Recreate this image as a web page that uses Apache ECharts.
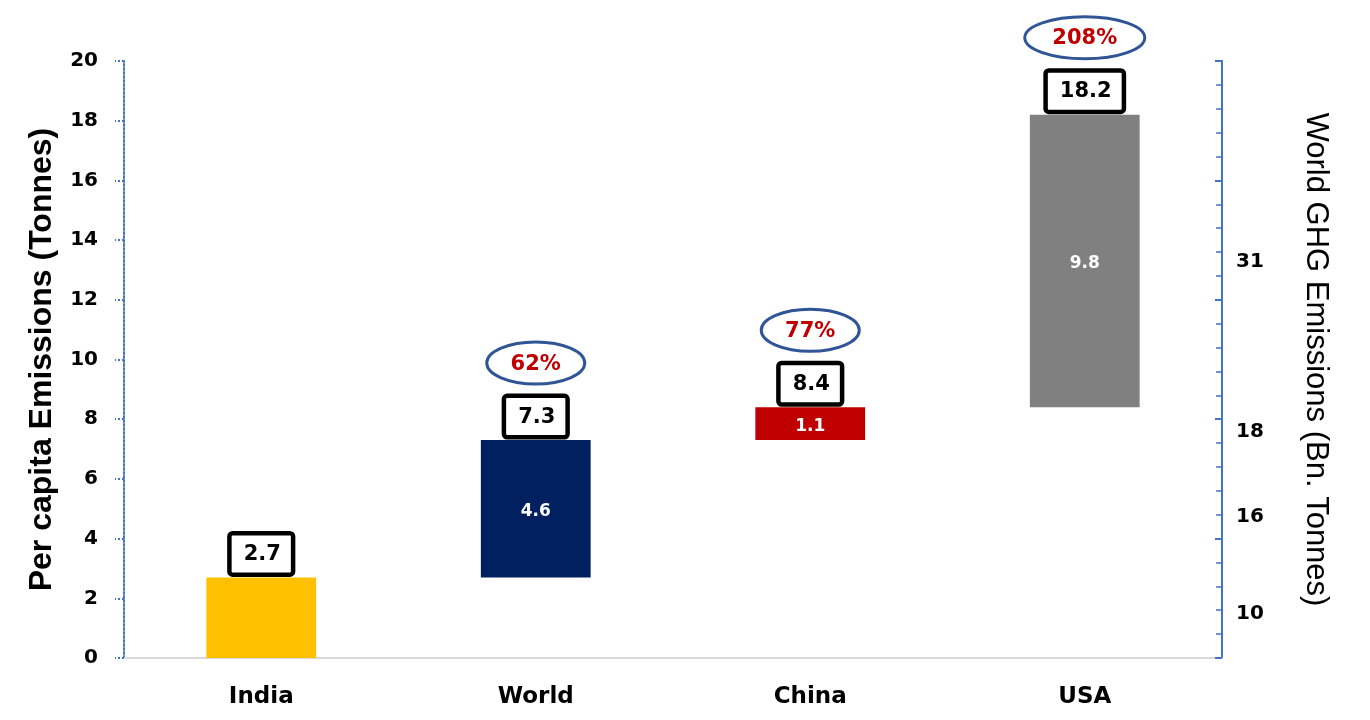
<!DOCTYPE html>
<html>
<head>
<meta charset="utf-8">
<title>Per capita emissions</title>
<script src="https://cdn.jsdelivr.net/npm/echarts@6/dist/echarts.min.js"></script>
<style>
  html, body { margin: 0; padding: 0; background: #fff; }
  #chart { width: 1370px; height: 720px; }
</style>
</head>
<body>
<div id="chart"></div>
<script>
// 数据
var categories = ['India', 'World', 'China', 'USA'];
var baseValues = [0, 2.7, 7.3, 8.4];          // 瀑布图的透明底座
var segmentValues = [2.7, 4.6, 1.1, 9.8];     // 各段增量
var totalValues = [2.7, 7.3, 8.4, 18.2];      // 方框里的人均排放
var changeLabels = ['', '62%', '77%', '208%']; // 椭圆里的增幅
var barColors = ['#FFC000', '#002060', '#C00000', '#808080'];

// 右轴标签 (不在刻度上)
var rightAxisLabels = ['10', '16', '18', '31'];
var rightAxisPositions = [1.47, 4.72, 7.57, 13.27];

var chart = echarts.init(document.getElementById('chart'));

var segmentData = segmentValues.map(function(v, i) {
  return {
    value: v,
    itemStyle: { color: barColors[i] },
    label: { show: i > 0 }
  };
});

var annotationData = totalValues.map(function(v, i) {
  return [i, v];
});

var option = {
  animation: false,
  grid: { left: 124, right: 148, top: 61, bottom: 62 },
  xAxis: {
    type: 'category',
    data: categories,
    axisLine: { lineStyle: { color: '#D9D9D9', width: 2 } },
    axisTick: { show: false },
    axisLabel: {
      margin: 28,
      color: '#000',
      fontFamily: 'DejaVu Sans',
      fontWeight: 'bold',
      fontSize: 23
    }
  },
  yAxis: [{
    type: 'value',
    min: 0,
    max: 20,
    interval: 2,
    name: 'Per capita Emissions (Tonnes)',
    nameLocation: 'middle',
    nameRotate: 90,
    nameGap: 66,
    nameTextStyle: {
      color: '#000',
      fontFamily: 'Liberation Sans',
      fontWeight: 'bold',
      fontSize: 32
    },
    axisLine: { show: true, lineStyle: { color: '#4472C4', type: 'dotted', width: 2 } },
    axisTick: { show: true, length: 9, lineStyle: { color: '#4472C4', type: 'dotted', width: 2 } },
    splitLine: { show: false },
    axisLabel: {
      margin: 26,
      color: '#000',
      fontFamily: 'DejaVu Sans',
      fontWeight: 'bold',
      fontSize: 20
    }
  }, {
    type: 'value',
    position: 'right',
    min: 0,
    max: 20,
    interval: 4,
    name: 'World GHG Emissions (Bn. Tonnes)',
    nameLocation: 'middle',
    nameRotate: -90,
    nameGap: 78,
    nameTextStyle: {
      color: '#000',
      fontFamily: 'Liberation Sans',
      fontSize: 31
    },
    axisLine: { show: true, lineStyle: { color: '#4472C4', width: 2 } },
    axisTick: { show: true, inside: true, length: 7, lineStyle: { color: '#4472C4', width: 2 } },
    minorTick: { show: true, splitNumber: 5, length: 6, lineStyle: { color: '#4472C4', width: 1.5 } },
    splitLine: { show: false },
    axisLabel: {
      customValues: rightAxisPositions,
      margin: 14,
      color: '#000',
      fontFamily: 'DejaVu Sans',
      fontWeight: 'bold',
      fontSize: 20,
      formatter: function(value, index) {
        var k = rightAxisPositions.indexOf(value);
        return k >= 0 ? rightAxisLabels[k] : rightAxisLabels[index];
      }
    }
  }],
  series: [{
    // 透明底座
    type: 'bar',
    stack: 'total',
    barWidth: '40%',
    itemStyle: { color: 'transparent' },
    emphasis: { disabled: true },
    data: baseValues
  }, {
    type: 'bar',
    stack: 'total',
    barWidth: '40%',
    data: segmentData,
    label: {
      position: 'inside',
      offset: [0, 3],
      color: '#fff',
      fontFamily: 'DejaVu Sans',
      fontWeight: 'bold',
      fontSize: 17
    }
  }, {
    // 方框 + 椭圆 标注
    type: 'custom',
    z: 10,
    data: annotationData,
    renderItem: function(params, api) {
      var i = api.value(0);
      var total = api.value(1);
      var pt = api.coord([i, total]);
      var boxBottom = pt[1] - 5;
      var children = [{
        type: 'text',
        style: {
          text: total.toFixed(1),
          x: pt[0],
          y: boxBottom,
          align: 'center',
          verticalAlign: 'bottom',
          fontFamily: 'DejaVu Sans',
          fontWeight: 'bold',
          fontSize: 21,
          lineHeight: 24,
          fill: '#000',
          backgroundColor: '#fff',
          borderColor: '#000',
          borderWidth: 4.5,
          borderRadius: 1,
          padding: [7, 10, 6, 12]
        }
      }];
      var pct = changeLabels[i];
      if (pct) {
        var cy = boxBottom - 42 - 30;
        var rx = pct.length * 11 + 16;
        children.push({
          type: 'ellipse',
          shape: { cx: pt[0], cy: cy, rx: rx, ry: 21 },
          style: { fill: '#fff', stroke: '#2F5597', lineWidth: 3 }
        });
        children.push({
          type: 'text',
          style: {
            text: pct,
            x: pt[0],
            y: cy + 1,
            align: 'center',
            verticalAlign: 'middle',
            fontFamily: 'DejaVu Sans',
            fontWeight: 'bold',
            fontSize: 21,
            fill: '#C00000'
          }
        });
      }
      return { type: 'group', children: children };
    }
  }]
};

chart.setOption(option);
</script>
</body>
</html>
